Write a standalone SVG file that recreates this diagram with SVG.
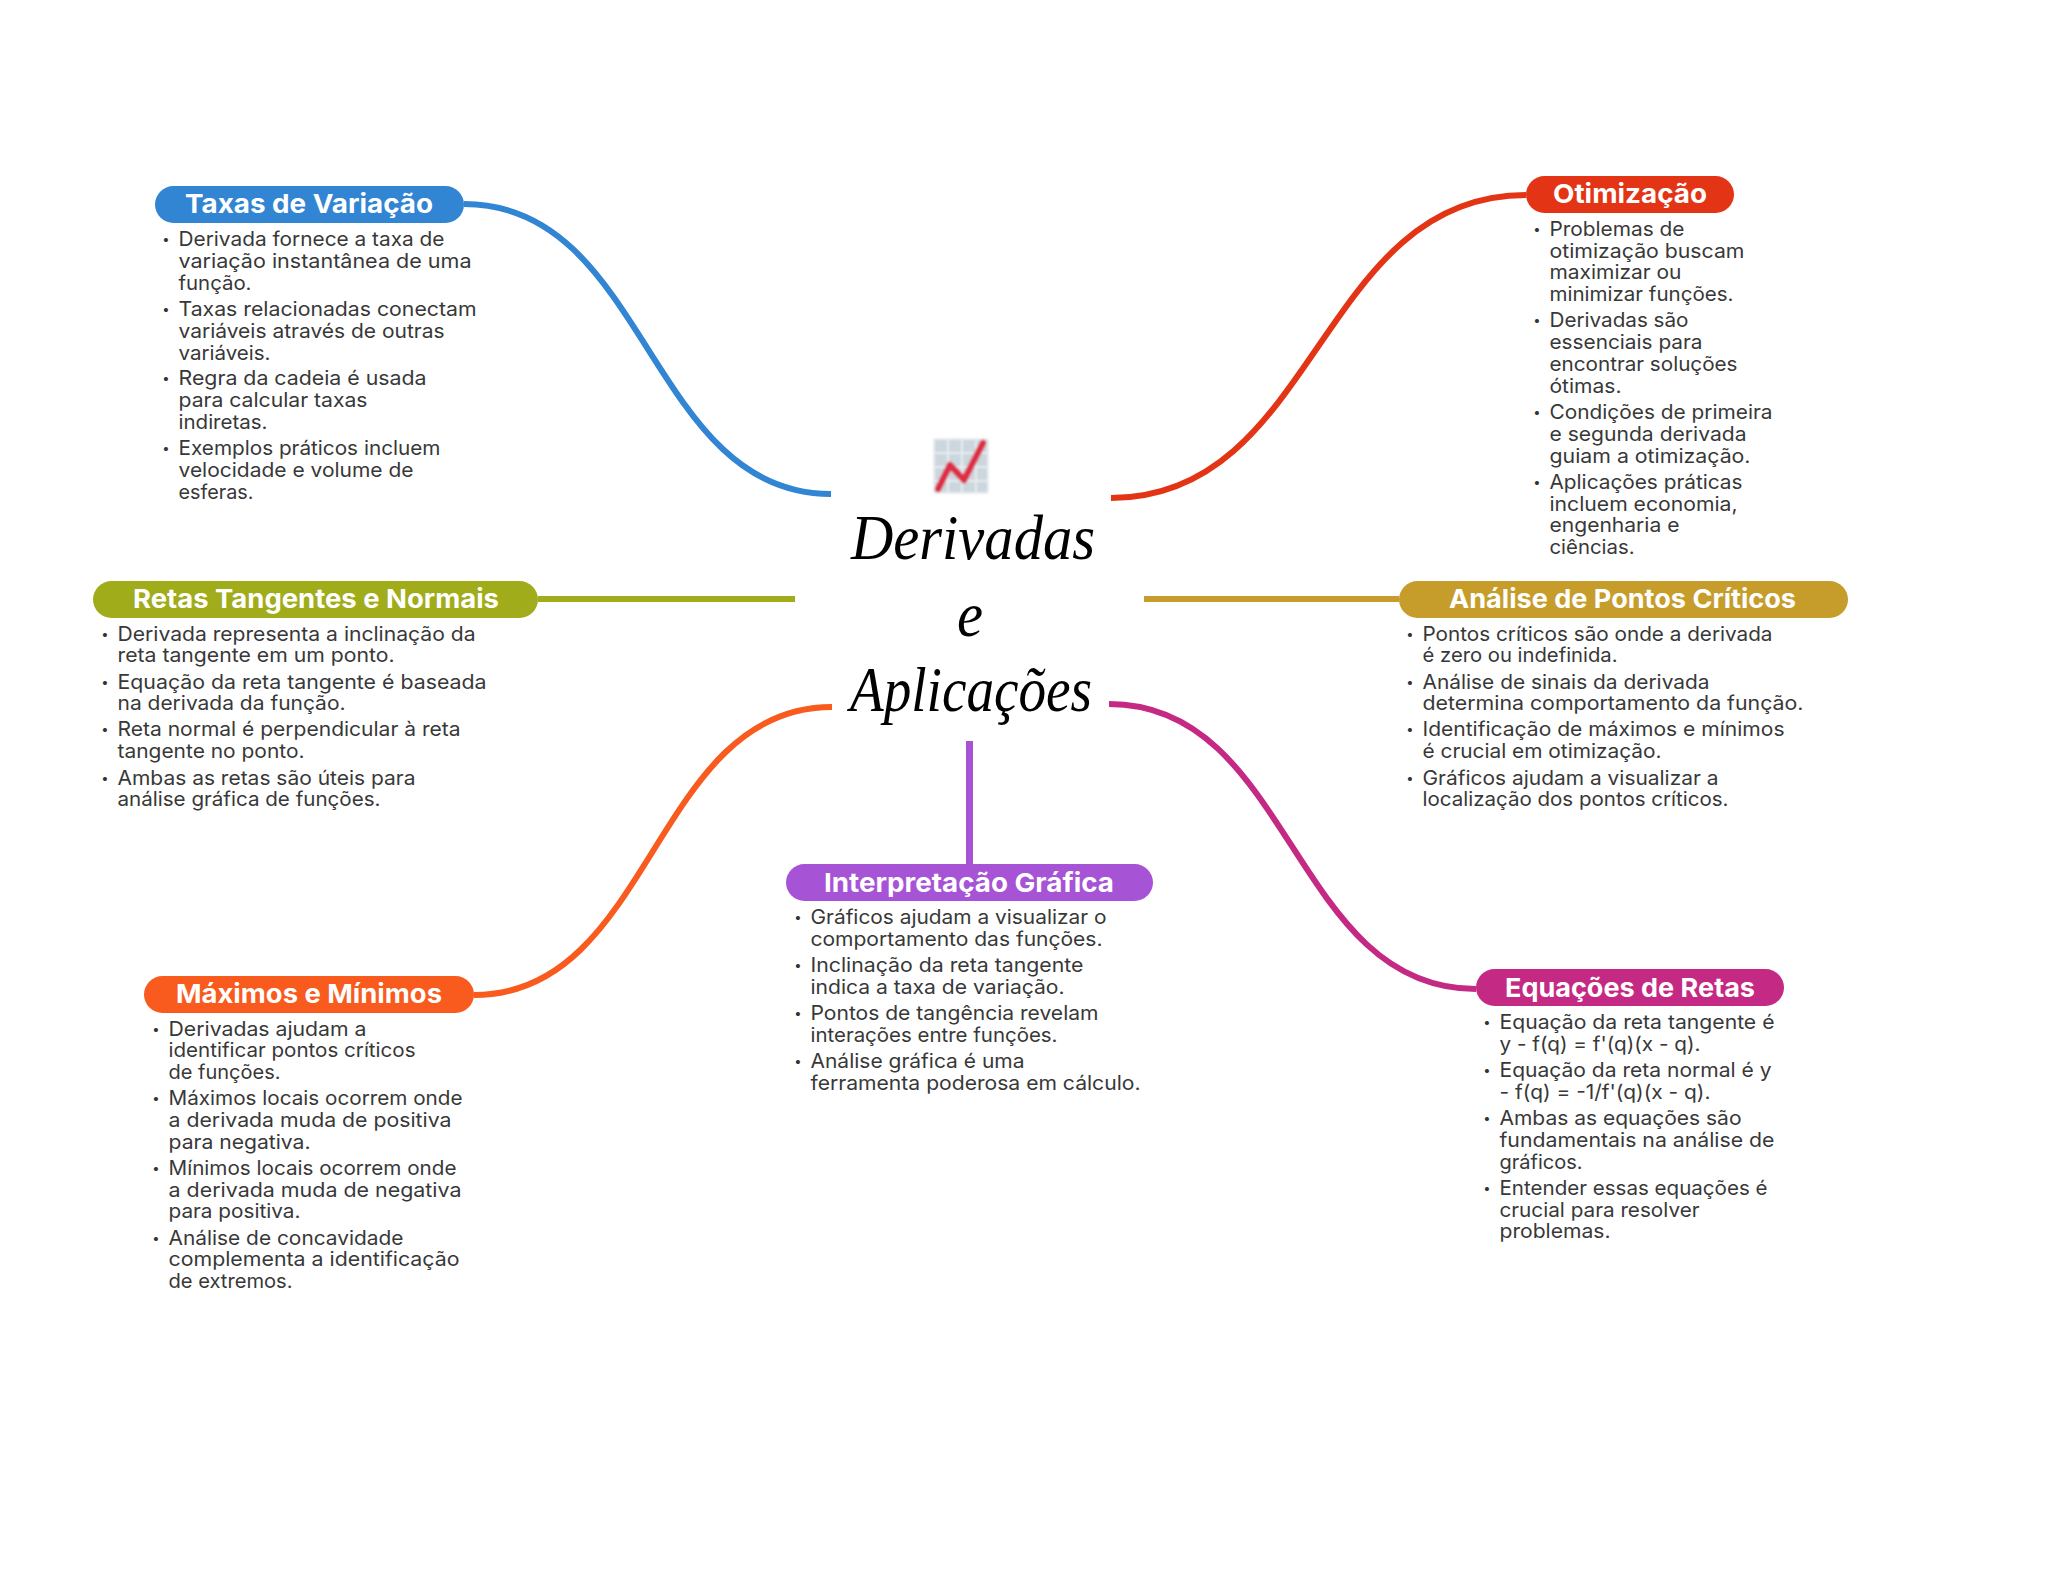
<svg xmlns="http://www.w3.org/2000/svg" width="2048" height="1569" viewBox="0 0 2048 1569">
<style>
text{font-family:"Inter","Liberation Sans",sans-serif}
.t{font-size:26px;font-weight:700;fill:#fff}
.l{font-size:20px;fill:#383838}
.b{font-size:13px;fill:#333;text-anchor:middle}
.c{font-family:"Liberation Serif",serif;font-style:italic;font-size:64px;fill:#000}
.e{fill:none;stroke-width:6}
</style>
<defs>
<filter id="soft" x="-10%" y="-10%" width="120%" height="120%"><feGaussianBlur stdDeviation="0.8"/></filter>
</defs>
<rect width="2048" height="1569" fill="#fff"/>
<g id="connectors">
<path class="e" stroke="#3285D3" d="M464,204C648,204 648,494 831,494"/>
<path class="e" stroke="#E33516" d="M1526,195C1318,195 1318,498 1111,498"/>
<path class="e" stroke="#A1AC1A" d="M538,599H795"/>
<path class="e" stroke="#C69D2B" d="M1144,599H1399"/>
<path class="e" stroke="#F95A1E" d="M474,995C653,995 653,707 832,707"/>
<path class="e" stroke="#C42A84" d="M1476,989C1292,989 1292,704 1109,704"/>
<path class="e" stroke="#A653D6" d="M969.5,741V864" style="stroke-width:7"/>
</g>
<g id="center">
<g filter="url(#soft)">
<rect x="933" y="438" width="56" height="56" rx="3" fill="#E8EDF1"/>
<path fill="#CCD6DD" d="M935,440h12v12h-12zM949,440h12v12h-12zM963,440h12v12h-12zM977,440h10v12h-10zM935,454h12v12h-12zM949,454h12v12h-12zM963,454h12v12h-12zM977,454h10v12h-10zM935,468h12v12h-12zM949,468h12v12h-12zM963,468h12v12h-12zM977,468h10v12h-10zM935,482h12v10h-12zM949,482h12v10h-12zM963,482h12v10h-12zM977,482h10v10h-10z"/>
<path fill="none" stroke="#DD2E44" stroke-width="6.5" stroke-linecap="round" stroke-linejoin="round" d="M938,489L950,465L964,480L983,443"/>
</g>
<text class="c" x="851" y="559" textLength="244" lengthAdjust="spacingAndGlyphs">Derivadas</text>
<text class="c" x="957" y="636" textLength="26" lengthAdjust="spacingAndGlyphs">e</text>
<text class="c" x="850" y="711" textLength="242" lengthAdjust="spacingAndGlyphs">Aplicações</text>
</g>
<g id="taxas">
<rect x="155" y="186" width="309" height="37" rx="18.5" fill="#3285D3"/>
<text class="t" x="185" y="213" textLength="248" lengthAdjust="spacingAndGlyphs">Taxas de Variação</text>
<text class="b" x="166" y="244">•</text>
<text class="l" x="178.5" y="246" textLength="266" lengthAdjust="spacingAndGlyphs">Derivada fornece a taxa de</text>
<text class="l" x="178.5" y="268" textLength="293" lengthAdjust="spacingAndGlyphs">variação instantânea de uma</text>
<text class="l" x="178.5" y="290" textLength="73" lengthAdjust="spacingAndGlyphs">função.</text>
<text class="b" x="166" y="314">•</text>
<text class="l" x="178.5" y="316" textLength="298" lengthAdjust="spacingAndGlyphs">Taxas relacionadas conectam</text>
<text class="l" x="178.5" y="338" textLength="266" lengthAdjust="spacingAndGlyphs">variáveis através de outras</text>
<text class="l" x="178.5" y="360" textLength="92" lengthAdjust="spacingAndGlyphs">variáveis.</text>
<text class="b" x="166" y="383">•</text>
<text class="l" x="178.5" y="385" textLength="248" lengthAdjust="spacingAndGlyphs">Regra da cadeia é usada</text>
<text class="l" x="178.5" y="407" textLength="189" lengthAdjust="spacingAndGlyphs">para calcular taxas</text>
<text class="l" x="178.5" y="429" textLength="89" lengthAdjust="spacingAndGlyphs">indiretas.</text>
<text class="b" x="166" y="453">•</text>
<text class="l" x="178.5" y="455" textLength="262" lengthAdjust="spacingAndGlyphs">Exemplos práticos incluem</text>
<text class="l" x="178.5" y="477" textLength="235" lengthAdjust="spacingAndGlyphs">velocidade e volume de</text>
<text class="l" x="178.5" y="499" textLength="75" lengthAdjust="spacingAndGlyphs">esferas.</text>
</g>
<g id="otimizacao">
<rect x="1526" y="176" width="208" height="37" rx="18.5" fill="#E33516"/>
<text class="t" x="1553" y="203" textLength="154" lengthAdjust="spacingAndGlyphs">Otimização</text>
<text class="b" x="1537" y="234">•</text>
<text class="l" x="1549.5" y="236" textLength="135" lengthAdjust="spacingAndGlyphs">Problemas de</text>
<text class="l" x="1549.5" y="258" textLength="195" lengthAdjust="spacingAndGlyphs">otimização buscam</text>
<text class="l" x="1549.5" y="279" textLength="132" lengthAdjust="spacingAndGlyphs">maximizar ou</text>
<text class="l" x="1549.5" y="301" textLength="184" lengthAdjust="spacingAndGlyphs">minimizar funções.</text>
<text class="b" x="1537" y="325">•</text>
<text class="l" x="1549.5" y="327" textLength="139" lengthAdjust="spacingAndGlyphs">Derivadas são</text>
<text class="l" x="1549.5" y="349" textLength="153" lengthAdjust="spacingAndGlyphs">essenciais para</text>
<text class="l" x="1549.5" y="371" textLength="188" lengthAdjust="spacingAndGlyphs">encontrar soluções</text>
<text class="l" x="1549.5" y="393" textLength="72" lengthAdjust="spacingAndGlyphs">ótimas.</text>
<text class="b" x="1537" y="417">•</text>
<text class="l" x="1549.5" y="419" textLength="223" lengthAdjust="spacingAndGlyphs">Condições de primeira</text>
<text class="l" x="1549.5" y="441" textLength="197" lengthAdjust="spacingAndGlyphs">e segunda derivada</text>
<text class="l" x="1549.5" y="463" textLength="201" lengthAdjust="spacingAndGlyphs">guiam a otimização.</text>
<text class="b" x="1537" y="487">•</text>
<text class="l" x="1549.5" y="489" textLength="193" lengthAdjust="spacingAndGlyphs">Aplicações práticas</text>
<text class="l" x="1549.5" y="511" textLength="188" lengthAdjust="spacingAndGlyphs">incluem economia,</text>
<text class="l" x="1549.5" y="532" textLength="130" lengthAdjust="spacingAndGlyphs">engenharia e</text>
<text class="l" x="1549.5" y="554" textLength="85" lengthAdjust="spacingAndGlyphs">ciências.</text>
</g>
<g id="retas">
<rect x="93" y="581" width="445" height="37" rx="18.5" fill="#A1AC1A"/>
<text class="t" x="133" y="608" textLength="366" lengthAdjust="spacingAndGlyphs">Retas Tangentes e Normais</text>
<text class="b" x="105" y="639">•</text>
<text class="l" x="117.5" y="641" textLength="358" lengthAdjust="spacingAndGlyphs">Derivada representa a inclinação da</text>
<text class="l" x="117.5" y="662" textLength="277" lengthAdjust="spacingAndGlyphs">reta tangente em um ponto.</text>
<text class="b" x="105" y="687">•</text>
<text class="l" x="117.5" y="689" textLength="369" lengthAdjust="spacingAndGlyphs">Equação da reta tangente é baseada</text>
<text class="l" x="117.5" y="710" textLength="228" lengthAdjust="spacingAndGlyphs">na derivada da função.</text>
<text class="b" x="105" y="734">•</text>
<text class="l" x="117.5" y="736" textLength="343" lengthAdjust="spacingAndGlyphs">Reta normal é perpendicular à reta</text>
<text class="l" x="117.5" y="758" textLength="187" lengthAdjust="spacingAndGlyphs">tangente no ponto.</text>
<text class="b" x="105" y="783">•</text>
<text class="l" x="117.5" y="785" textLength="298" lengthAdjust="spacingAndGlyphs">Ambas as retas são úteis para</text>
<text class="l" x="117.5" y="806" textLength="263" lengthAdjust="spacingAndGlyphs">análise gráfica de funções.</text>
</g>
<g id="analise">
<rect x="1399" y="581" width="449" height="37" rx="18.5" fill="#C69D2B"/>
<text class="t" x="1449" y="608" textLength="347" lengthAdjust="spacingAndGlyphs">Análise de Pontos Críticos</text>
<text class="b" x="1410" y="639">•</text>
<text class="l" x="1422.5" y="641" textLength="350" lengthAdjust="spacingAndGlyphs">Pontos críticos são onde a derivada</text>
<text class="l" x="1422.5" y="662" textLength="195" lengthAdjust="spacingAndGlyphs">é zero ou indefinida.</text>
<text class="b" x="1410" y="687">•</text>
<text class="l" x="1422.5" y="689" textLength="287" lengthAdjust="spacingAndGlyphs">Análise de sinais da derivada</text>
<text class="l" x="1422.5" y="710" textLength="381" lengthAdjust="spacingAndGlyphs">determina comportamento da função.</text>
<text class="b" x="1410" y="734">•</text>
<text class="l" x="1422.5" y="736" textLength="362" lengthAdjust="spacingAndGlyphs">Identificação de máximos e mínimos</text>
<text class="l" x="1422.5" y="758" textLength="239" lengthAdjust="spacingAndGlyphs">é crucial em otimização.</text>
<text class="b" x="1410" y="783">•</text>
<text class="l" x="1422.5" y="785" textLength="296" lengthAdjust="spacingAndGlyphs">Gráficos ajudam a visualizar a</text>
<text class="l" x="1422.5" y="806" textLength="306" lengthAdjust="spacingAndGlyphs">localização dos pontos críticos.</text>
</g>
<g id="interpretacao">
<rect x="786" y="864" width="367" height="37" rx="18.5" fill="#A653D6"/>
<text class="t" x="824" y="892" textLength="290" lengthAdjust="spacingAndGlyphs">Interpretação Gráfica</text>
<text class="b" x="798" y="922">•</text>
<text class="l" x="810.5" y="924" textLength="296" lengthAdjust="spacingAndGlyphs">Gráficos ajudam a visualizar o</text>
<text class="l" x="810.5" y="946" textLength="292" lengthAdjust="spacingAndGlyphs">comportamento das funções.</text>
<text class="b" x="798" y="970">•</text>
<text class="l" x="810.5" y="972" textLength="273" lengthAdjust="spacingAndGlyphs">Inclinação da reta tangente</text>
<text class="l" x="810.5" y="994" textLength="254" lengthAdjust="spacingAndGlyphs">indica a taxa de variação.</text>
<text class="b" x="798" y="1018">•</text>
<text class="l" x="810.5" y="1020" textLength="288" lengthAdjust="spacingAndGlyphs">Pontos de tangência revelam</text>
<text class="l" x="810.5" y="1042" textLength="247" lengthAdjust="spacingAndGlyphs">interações entre funções.</text>
<text class="b" x="798" y="1066">•</text>
<text class="l" x="810.5" y="1068" textLength="214" lengthAdjust="spacingAndGlyphs">Análise gráfica é uma</text>
<text class="l" x="810.5" y="1090" textLength="330" lengthAdjust="spacingAndGlyphs">ferramenta poderosa em cálculo.</text>
</g>
<g id="maximos">
<rect x="144" y="976" width="330" height="37" rx="18.5" fill="#F95A1E"/>
<text class="t" x="176" y="1003" textLength="266" lengthAdjust="spacingAndGlyphs">Máximos e Mínimos</text>
<text class="b" x="156" y="1034">•</text>
<text class="l" x="168.5" y="1036" textLength="198" lengthAdjust="spacingAndGlyphs">Derivadas ajudam a</text>
<text class="l" x="168.5" y="1057" textLength="247" lengthAdjust="spacingAndGlyphs">identificar pontos críticos</text>
<text class="l" x="168.5" y="1079" textLength="112" lengthAdjust="spacingAndGlyphs">de funções.</text>
<text class="b" x="156" y="1103">•</text>
<text class="l" x="168.5" y="1105" textLength="294" lengthAdjust="spacingAndGlyphs">Máximos locais ocorrem onde</text>
<text class="l" x="168.5" y="1127" textLength="283" lengthAdjust="spacingAndGlyphs">a derivada muda de positiva</text>
<text class="l" x="168.5" y="1149" textLength="142" lengthAdjust="spacingAndGlyphs">para negativa.</text>
<text class="b" x="156" y="1173">•</text>
<text class="l" x="168.5" y="1175" textLength="288" lengthAdjust="spacingAndGlyphs">Mínimos locais ocorrem onde</text>
<text class="l" x="168.5" y="1197" textLength="293" lengthAdjust="spacingAndGlyphs">a derivada muda de negativa</text>
<text class="l" x="168.5" y="1218" textLength="132" lengthAdjust="spacingAndGlyphs">para positiva.</text>
<text class="b" x="156" y="1243">•</text>
<text class="l" x="168.5" y="1245" textLength="235" lengthAdjust="spacingAndGlyphs">Análise de concavidade</text>
<text class="l" x="168.5" y="1266" textLength="291" lengthAdjust="spacingAndGlyphs">complementa a identificação</text>
<text class="l" x="168.5" y="1288" textLength="124" lengthAdjust="spacingAndGlyphs">de extremos.</text>
</g>
<g id="equacoes">
<rect x="1476" y="969" width="308" height="37" rx="18.5" fill="#C42A84"/>
<text class="t" x="1505" y="997" textLength="250" lengthAdjust="spacingAndGlyphs">Equações de Retas</text>
<text class="b" x="1487" y="1027">•</text>
<text class="l" x="1499.5" y="1029" textLength="275" lengthAdjust="spacingAndGlyphs">Equação da reta tangente é</text>
<text class="l" x="1499.5" y="1051" textLength="201" lengthAdjust="spacingAndGlyphs">y - f(q) = f'(q)(x - q).</text>
<text class="b" x="1487" y="1075">•</text>
<text class="l" x="1499.5" y="1077" textLength="272" lengthAdjust="spacingAndGlyphs">Equação da reta normal é y</text>
<text class="l" x="1499.5" y="1099" textLength="211" lengthAdjust="spacingAndGlyphs">- f(q) = -1/f'(q)(x - q).</text>
<text class="b" x="1487" y="1123">•</text>
<text class="l" x="1499.5" y="1125" textLength="242" lengthAdjust="spacingAndGlyphs">Ambas as equações são</text>
<text class="l" x="1499.5" y="1147" textLength="275" lengthAdjust="spacingAndGlyphs">fundamentais na análise de</text>
<text class="l" x="1499.5" y="1169" textLength="83" lengthAdjust="spacingAndGlyphs">gráficos.</text>
<text class="b" x="1487" y="1193">•</text>
<text class="l" x="1499.5" y="1195" textLength="268" lengthAdjust="spacingAndGlyphs">Entender essas equações é</text>
<text class="l" x="1499.5" y="1217" textLength="200" lengthAdjust="spacingAndGlyphs">crucial para resolver</text>
<text class="l" x="1499.5" y="1238" textLength="111" lengthAdjust="spacingAndGlyphs">problemas.</text>
</g>
</svg>
